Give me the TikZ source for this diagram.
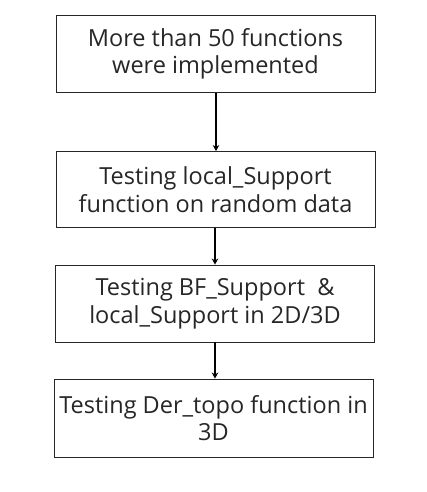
\documentclass[tikz,border=0pt]{standalone}
\usepackage{fontspec}
\setmainfont{Open Sans}
\usetikzlibrary{arrows.meta}
\definecolor{txt}{HTML}{262626}
\begin{document}
\begin{tikzpicture}[x=1pt,y=-1pt,
  box/.style={draw=black!85, line width=0.9pt, minimum width=319pt, inner sep=0pt,
    align=center, text=txt, font=\fontsize{23.5}{27.5}\selectfont},
  conn/.style={line width=1.5pt, -{Stealth[length=6pt,width=6.5pt]}}]
\useasboundingbox (0,0) rectangle (427,492);
\node[box, minimum height=77pt] (b1) at (215.5,54) {More than 50 functions\\were implemented};
\node[box, minimum height=76pt] (b2) at (215.5,189.5) {Testing local\_Support\\function on random data};
\node[box, minimum height=77pt] (b3) at (215,303.5) {Testing BF\_Support \ \&\\local\_Support in 2D/3D};
\node[box, minimum height=78pt] (b4) at (213.5,418) {Testing Der\_topo function in\\3D};
\draw[conn] ([xshift=0.5pt]b1.south) -- ([xshift=0.5pt]b2.north);
\draw[conn] ([xshift=-0.5pt]b2.south) -- ([xshift=-0.5pt]b2.south |- b3.north);
\draw[conn] (b3.south) -- (b3.south |- b4.north);
\end{tikzpicture}
\end{document}
